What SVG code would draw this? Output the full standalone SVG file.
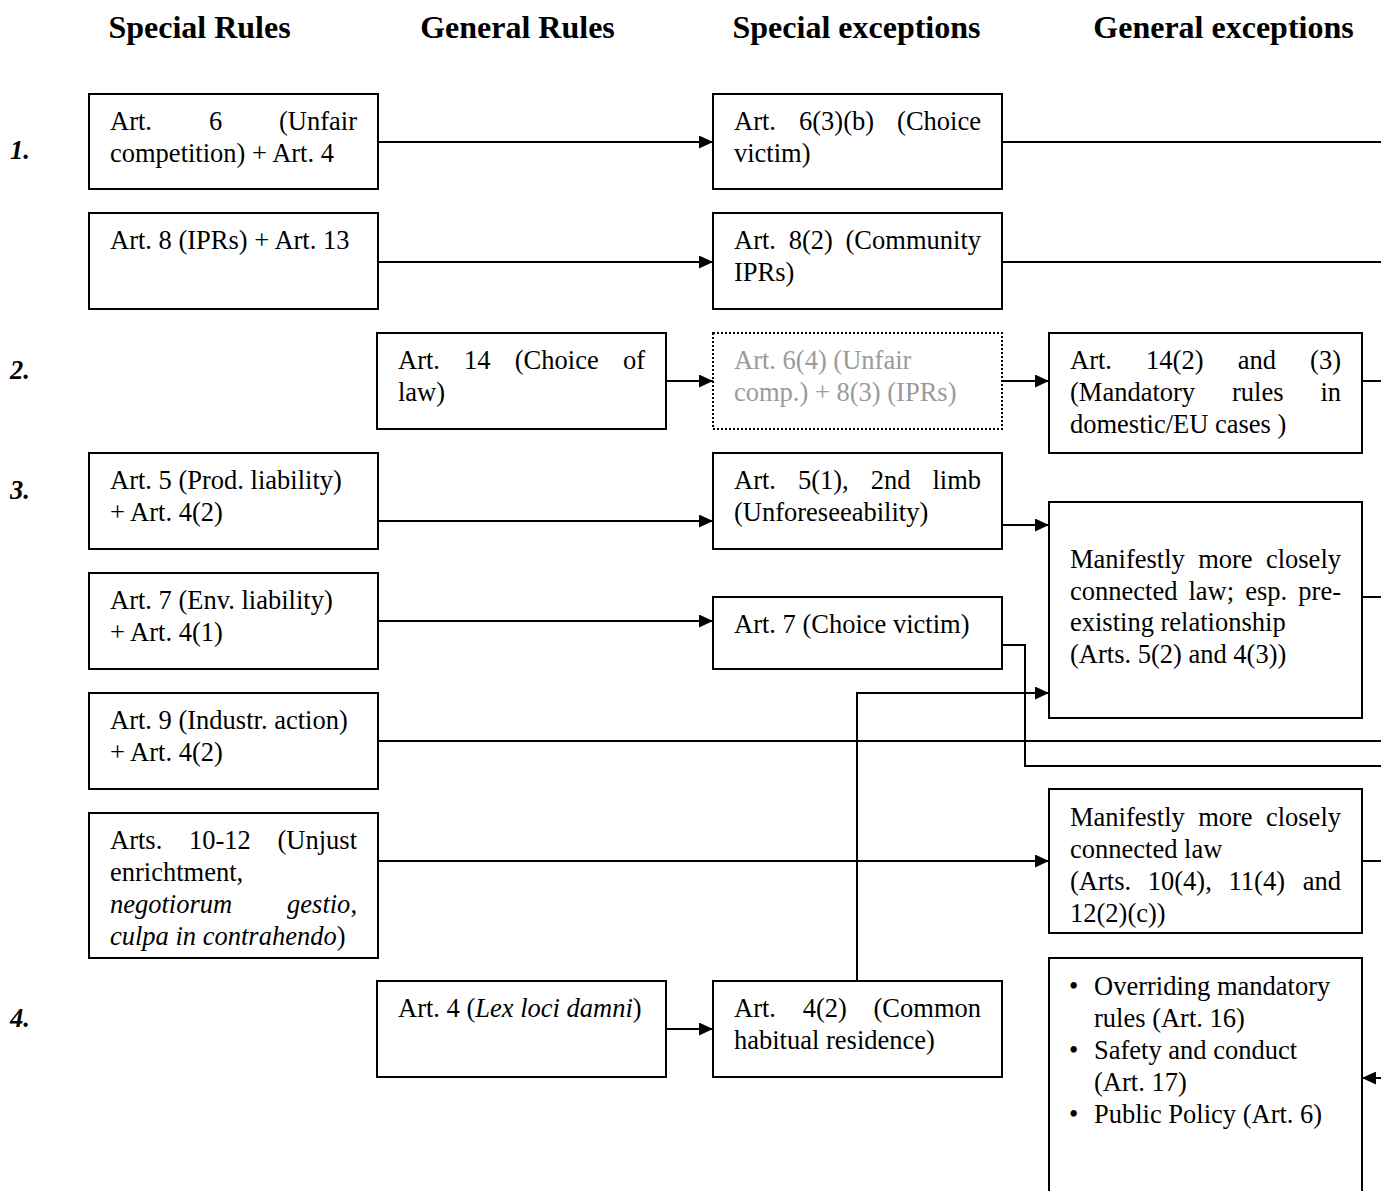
<svg xmlns="http://www.w3.org/2000/svg" width="1381" height="1191" viewBox="0 0 1381 1191">
<style>
  .box { fill: #fff; stroke: #000; stroke-width: 2; }
  .dot { fill: #fff; stroke: #000; stroke-width: 2; stroke-dasharray: 2 2; }
  text { font-family: "Liberation Serif", "Times New Roman", serif; font-size: 26.5px; fill: #000; }
  .hd { font-weight: bold; font-size: 32px; text-anchor: middle; }
  .num { font-weight: bold; font-style: italic; }
  .gray { fill: #9a9a9a; }
  .it { font-style: italic; }
  .end { text-anchor: end; }
  .conn { fill: none; stroke: #000; stroke-width: 2; }
</style>
<defs>
  <marker id="arr" markerUnits="userSpaceOnUse" markerWidth="14" markerHeight="13" refX="14" refY="6.5" orient="auto">
    <path d="M0,0 L14,6.5 L0,13 z" fill="#000"/>
  </marker>
</defs>
<rect width="1381" height="1191" fill="#fff"/>

<g id="headers">
  <text class="hd" x="199.5" y="38">Special Rules</text>
  <text class="hd" x="517.5" y="38">General Rules</text>
  <text class="hd" x="856.5" y="38">Special exceptions</text>
  <text class="hd" x="1223.5" y="38">General exceptions</text>
</g>
<g id="row-labels">
  <text class="num" x="10" y="159">1.</text>
  <text class="num" x="10" y="379">2.</text>
  <text class="num" x="10" y="499">3.</text>
  <text class="num" x="10" y="1027">4.</text>
</g>

<g id="connectors">
  <path class="conn" d="M378,142 H713" marker-end="url(#arr)"/>
  <path class="conn" d="M1002,142 H1381"/>
  <path class="conn" d="M378,262 H713" marker-end="url(#arr)"/>
  <path class="conn" d="M1002,262 H1381"/>
  <path class="conn" d="M666,381 H713" marker-end="url(#arr)"/>
  <path class="conn" d="M1002,381 H1049" marker-end="url(#arr)"/>
  <path class="conn" d="M1362,381 H1381"/>
  <path class="conn" d="M378,521 H713" marker-end="url(#arr)"/>
  <path class="conn" d="M1002,525 H1049" marker-end="url(#arr)"/>
  <path class="conn" d="M1362,597 H1381"/>
  <path class="conn" d="M378,621 H713" marker-end="url(#arr)"/>
  <path class="conn" d="M1002,645 H1025 V766 H1381"/>
  <path class="conn" d="M378,741 H1381"/>
  <path class="conn" d="M857,981 V693 H1049" marker-end="url(#arr)"/>
  <path class="conn" d="M378,861 H1049" marker-end="url(#arr)"/>
  <path class="conn" d="M1362,861 H1381"/>
  <path class="conn" d="M666,1029 H713" marker-end="url(#arr)"/>
  <path class="conn" d="M1381,1078 H1362" marker-end="url(#arr)"/>
</g>

<g id="a1">
  <rect class="box" x="89" y="94" width="289" height="95"/>
  <text y="130"><tspan x="110">Art.</tspan><tspan x="208.9">6</tspan><tspan x="357" class="end">(Unfair</tspan></text>
  <text x="110" y="162">competition) + Art. 4</text>
</g>
<g id="a2">
  <rect class="box" x="89" y="213" width="289" height="96"/>
  <text x="110" y="249">Art. 8 (IPRs) + Art. 13</text>
</g>
<g id="a3">
  <rect class="box" x="89" y="453" width="289" height="96"/>
  <text x="110" y="489">Art. 5 (Prod. liability)</text>
  <text x="110" y="521">+ Art. 4(2)</text>
</g>
<g id="a4">
  <rect class="box" x="89" y="573" width="289" height="96"/>
  <text x="110" y="609">Art. 7 (Env. liability)</text>
  <text x="110" y="641">+ Art. 4(1)</text>
</g>
<g id="a5">
  <rect class="box" x="89" y="693" width="289" height="96"/>
  <text x="110" y="729">Art. 9 (Industr. action)</text>
  <text x="110" y="761">+ Art. 4(2)</text>
</g>
<g id="a6">
  <rect class="box" x="89" y="813" width="289" height="145"/>
  <text y="849"><tspan x="110">Arts.</tspan><tspan x="189">10-12</tspan><tspan x="357" class="end">(Unjust</tspan></text>
  <text x="110" y="881">enrichtment,</text>
  <text x="110" y="913" class="it">negotiorum</text>
  <text x="357" y="913" class="end"><tspan class="it">gestio</tspan>,</text>
  <text x="110" y="945"><tspan class="it">culpa in contrahendo</tspan>)</text>
</g>

<g id="b1">
  <rect class="box" x="377" y="333" width="289" height="96"/>
  <text y="369"><tspan x="398">Art.</tspan><tspan x="464.1">14</tspan><tspan x="514.8">(Choice</tspan><tspan x="645" class="end">of</tspan></text>
  <text x="398" y="401">law)</text>
</g>
<g id="b2">
  <rect class="box" x="377" y="981" width="289" height="96"/>
  <text x="398" y="1017">Art. 4 (<tspan class="it">Lex loci damni</tspan>)</text>
</g>

<g id="c1">
  <rect class="box" x="713" y="94" width="289" height="95"/>
  <text y="130"><tspan x="734">Art.</tspan><tspan x="799">6(3)(b)</tspan><tspan x="981" class="end">(Choice</tspan></text>
  <text x="734" y="162">victim)</text>
</g>
<g id="c2">
  <rect class="box" x="713" y="213" width="289" height="96"/>
  <text y="249"><tspan x="734">Art.</tspan><tspan x="788.7">8(2)</tspan><tspan x="981" class="end">(Community</tspan></text>
  <text x="734" y="281">IPRs)</text>
</g>
<g id="c3">
  <rect class="dot" x="713" y="333" width="289" height="96"/>
  <text x="734" y="369" class="gray">Art. 6(4) (Unfair</text>
  <text x="734" y="401" class="gray">comp.) + 8(3) (IPRs)</text>
</g>
<g id="c4">
  <rect class="box" x="713" y="453" width="289" height="96"/>
  <text y="489"><tspan x="734">Art.</tspan><tspan x="797.9">5(1),</tspan><tspan x="870.7">2nd</tspan><tspan x="981" class="end">limb</tspan></text>
  <text x="734" y="521">(Unforeseeability)</text>
</g>
<g id="c5">
  <rect class="box" x="713" y="597" width="289" height="72"/>
  <text x="734" y="633">Art. 7 (Choice victim)</text>
</g>
<g id="c6">
  <rect class="box" x="713" y="981" width="289" height="96"/>
  <text y="1017"><tspan x="734">Art.</tspan><tspan x="802.7">4(2)</tspan><tspan x="981" class="end">(Common</tspan></text>
  <text x="734" y="1049">habitual residence)</text>
</g>

<g id="d1">
  <rect class="box" x="1049" y="333" width="313" height="120"/>
  <text y="369"><tspan x="1070">Art.</tspan><tspan x="1146.1">14(2)</tspan><tspan x="1237.7">and</tspan><tspan x="1341" class="end">(3)</tspan></text>
  <text y="401"><tspan x="1070">(Mandatory</tspan><tspan x="1232">rules</tspan><tspan x="1341" class="end">in</tspan></text>
  <text x="1070" y="433">domestic/EU cases )</text>
</g>
<g id="d2">
  <rect class="box" x="1049" y="502" width="313" height="216"/>
  <text y="568"><tspan x="1070">Manifestly</tspan><tspan x="1198.2">more</tspan><tspan x="1341" class="end">closely</tspan></text>
  <text y="599.5"><tspan x="1070">connected</tspan><tspan x="1188.5">law;</tspan><tspan x="1245.3">esp.</tspan><tspan x="1341" class="end">pre-</tspan></text>
  <text x="1070" y="631">existing relationship</text>
  <text x="1070" y="662.5">(Arts. 5(2) and 4(3))</text>
</g>
<g id="d3">
  <rect class="box" x="1049" y="789" width="313" height="144"/>
  <text y="826"><tspan x="1070">Manifestly</tspan><tspan x="1198.2">more</tspan><tspan x="1341" class="end">closely</tspan></text>
  <text x="1070" y="858">connected law</text>
  <text y="890"><tspan x="1070">(Arts.</tspan><tspan x="1147.8">10(4),</tspan><tspan x="1228.6">11(4)</tspan><tspan x="1341" class="end">and</tspan></text>
  <text x="1070" y="922">12(2)(c))</text>
</g>
<g id="d4">
  <rect class="box" x="1049" y="958" width="313" height="260"/>
  <text x="1069" y="995">•</text>
  <text x="1094" y="995">Overriding mandatory</text>
  <text x="1094" y="1027">rules (Art. 16)</text>
  <text x="1069" y="1059">•</text>
  <text x="1094" y="1059">Safety and conduct</text>
  <text x="1094" y="1091">(Art. 17)</text>
  <text x="1069" y="1123">•</text>
  <text x="1094" y="1123">Public Policy (Art. 6)</text>
</g>
</svg>
